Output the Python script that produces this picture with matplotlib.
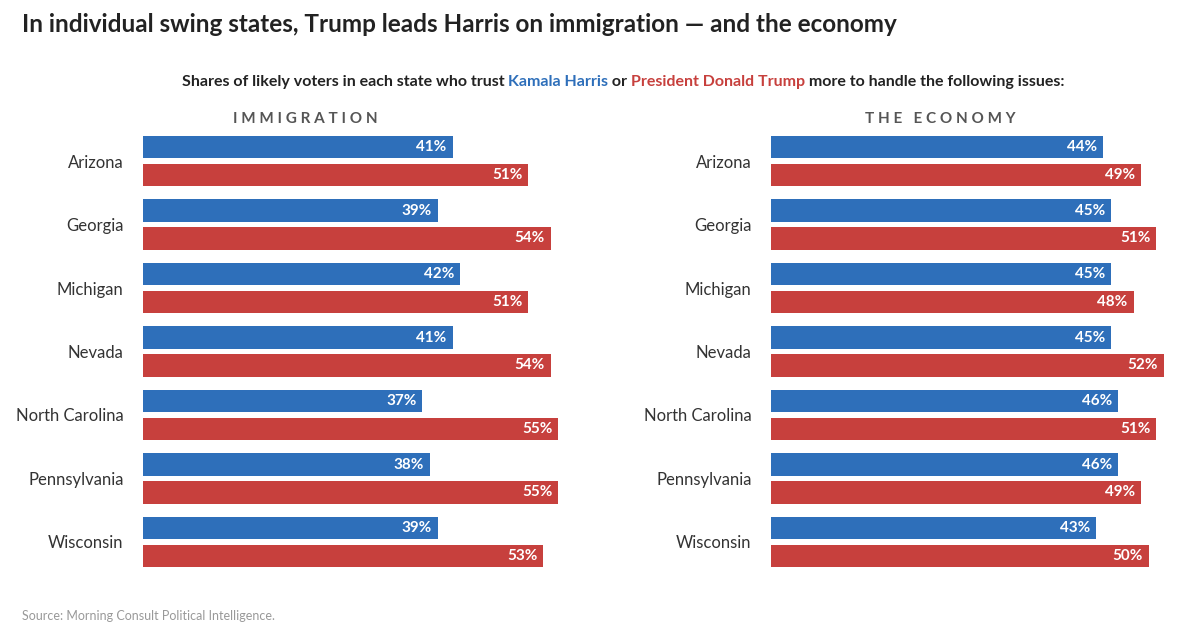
import matplotlib.pyplot as plt

states = ["Arizona", "Georgia", "Michigan", "Nevada", "North Carolina", "Pennsylvania", "Wisconsin"]
imm_harris = [41, 39, 42, 41, 37, 38, 39]
imm_trump = [51, 54, 51, 54, 55, 55, 53]
eco_harris = [44, 45, 45, 45, 46, 46, 43]
eco_trump = [49, 51, 48, 52, 51, 49, 50]

BLUE = "#2e6fba"
RED = "#c7403d"
W, H = 1200, 631

plt.rcParams["font.family"] = ["Lato", "DejaVu Sans"]
fig = plt.figure(figsize=(W / 100, H / 100), dpi=100)


def panel(x0, harris, trump, title, cx):
    ax = fig.add_axes([x0 / W, (H - 567) / H, 423 / W, 431 / H])
    ys = range(len(states))
    ax.barh([y - 0.22 for y in ys], harris, height=0.35, color=BLUE)
    ax.barh([y + 0.22 for y in ys], trump, height=0.35, color=RED)
    for y, h, t in zip(ys, harris, trump):
        ax.text(h - 0.8, y - 0.22, f"{h}%", color="white", fontweight="bold",
                fontsize=11, ha="right", va="center")
        ax.text(t - 0.8, y + 0.22, f"{t}%", color="white", fontweight="bold",
                fontsize=11, ha="right", va="center")
    ax.set_xlim(0, 56)
    ax.set_ylim(6.394, -0.394)
    ax.set_yticks(list(ys))
    ax.set_yticklabels(states, fontsize=12, color="#333333")
    ax.tick_params(axis="y", length=0, pad=14)
    ax.set_xticks([])
    for s in ax.spines.values():
        s.set_visible(False)
    fig.text(cx / W, 1 - 119 / H, title, ha="center", va="center", fontsize=11,
             fontweight="bold", color="#555555", fontstretch="expanded")
    return ax


panel(143, imm_harris, imm_trump, "I M M I G R A T I O N", 305)
panel(771, eco_harris, eco_trump, "T H E   E C O N O M Y", 940)

fig.text(22 / W, 1 - 24 / H,
         "In individual swing states, Trump leads Harris on immigration \u2014 and the economy",
         fontsize=17.5, fontweight="bold", color="#222222", va="center")

# subtitle with coloured names
parts = [("Shares of likely voters in each state who trust ", "#222222"),
         ("Kamala Harris", BLUE), (" or ", "#222222"),
         ("President Donald Trump", RED),
         (" more to handle the following issues:", "#222222")]
fig.canvas.draw()
r = fig.canvas.get_renderer()
texts = []
x = 0
for s, c in parts:
    t = fig.text(0, 1 - 82 / H, s, fontsize=11.5, fontweight="bold", color=c, va="center")
    texts.append(t)
total = sum(t.get_window_extent(r).width for t in texts)
x = (623 - total / 2)
for t in texts:
    t.set_x(x / W)
    x += t.get_window_extent(r).width

fig.text(22 / W, 1 - 616 / H, "Source: Morning Consult Political Intelligence.",
         fontsize=9, color="#999999", va="center")

fig.savefig("out.png", dpi=100, facecolor="white")
